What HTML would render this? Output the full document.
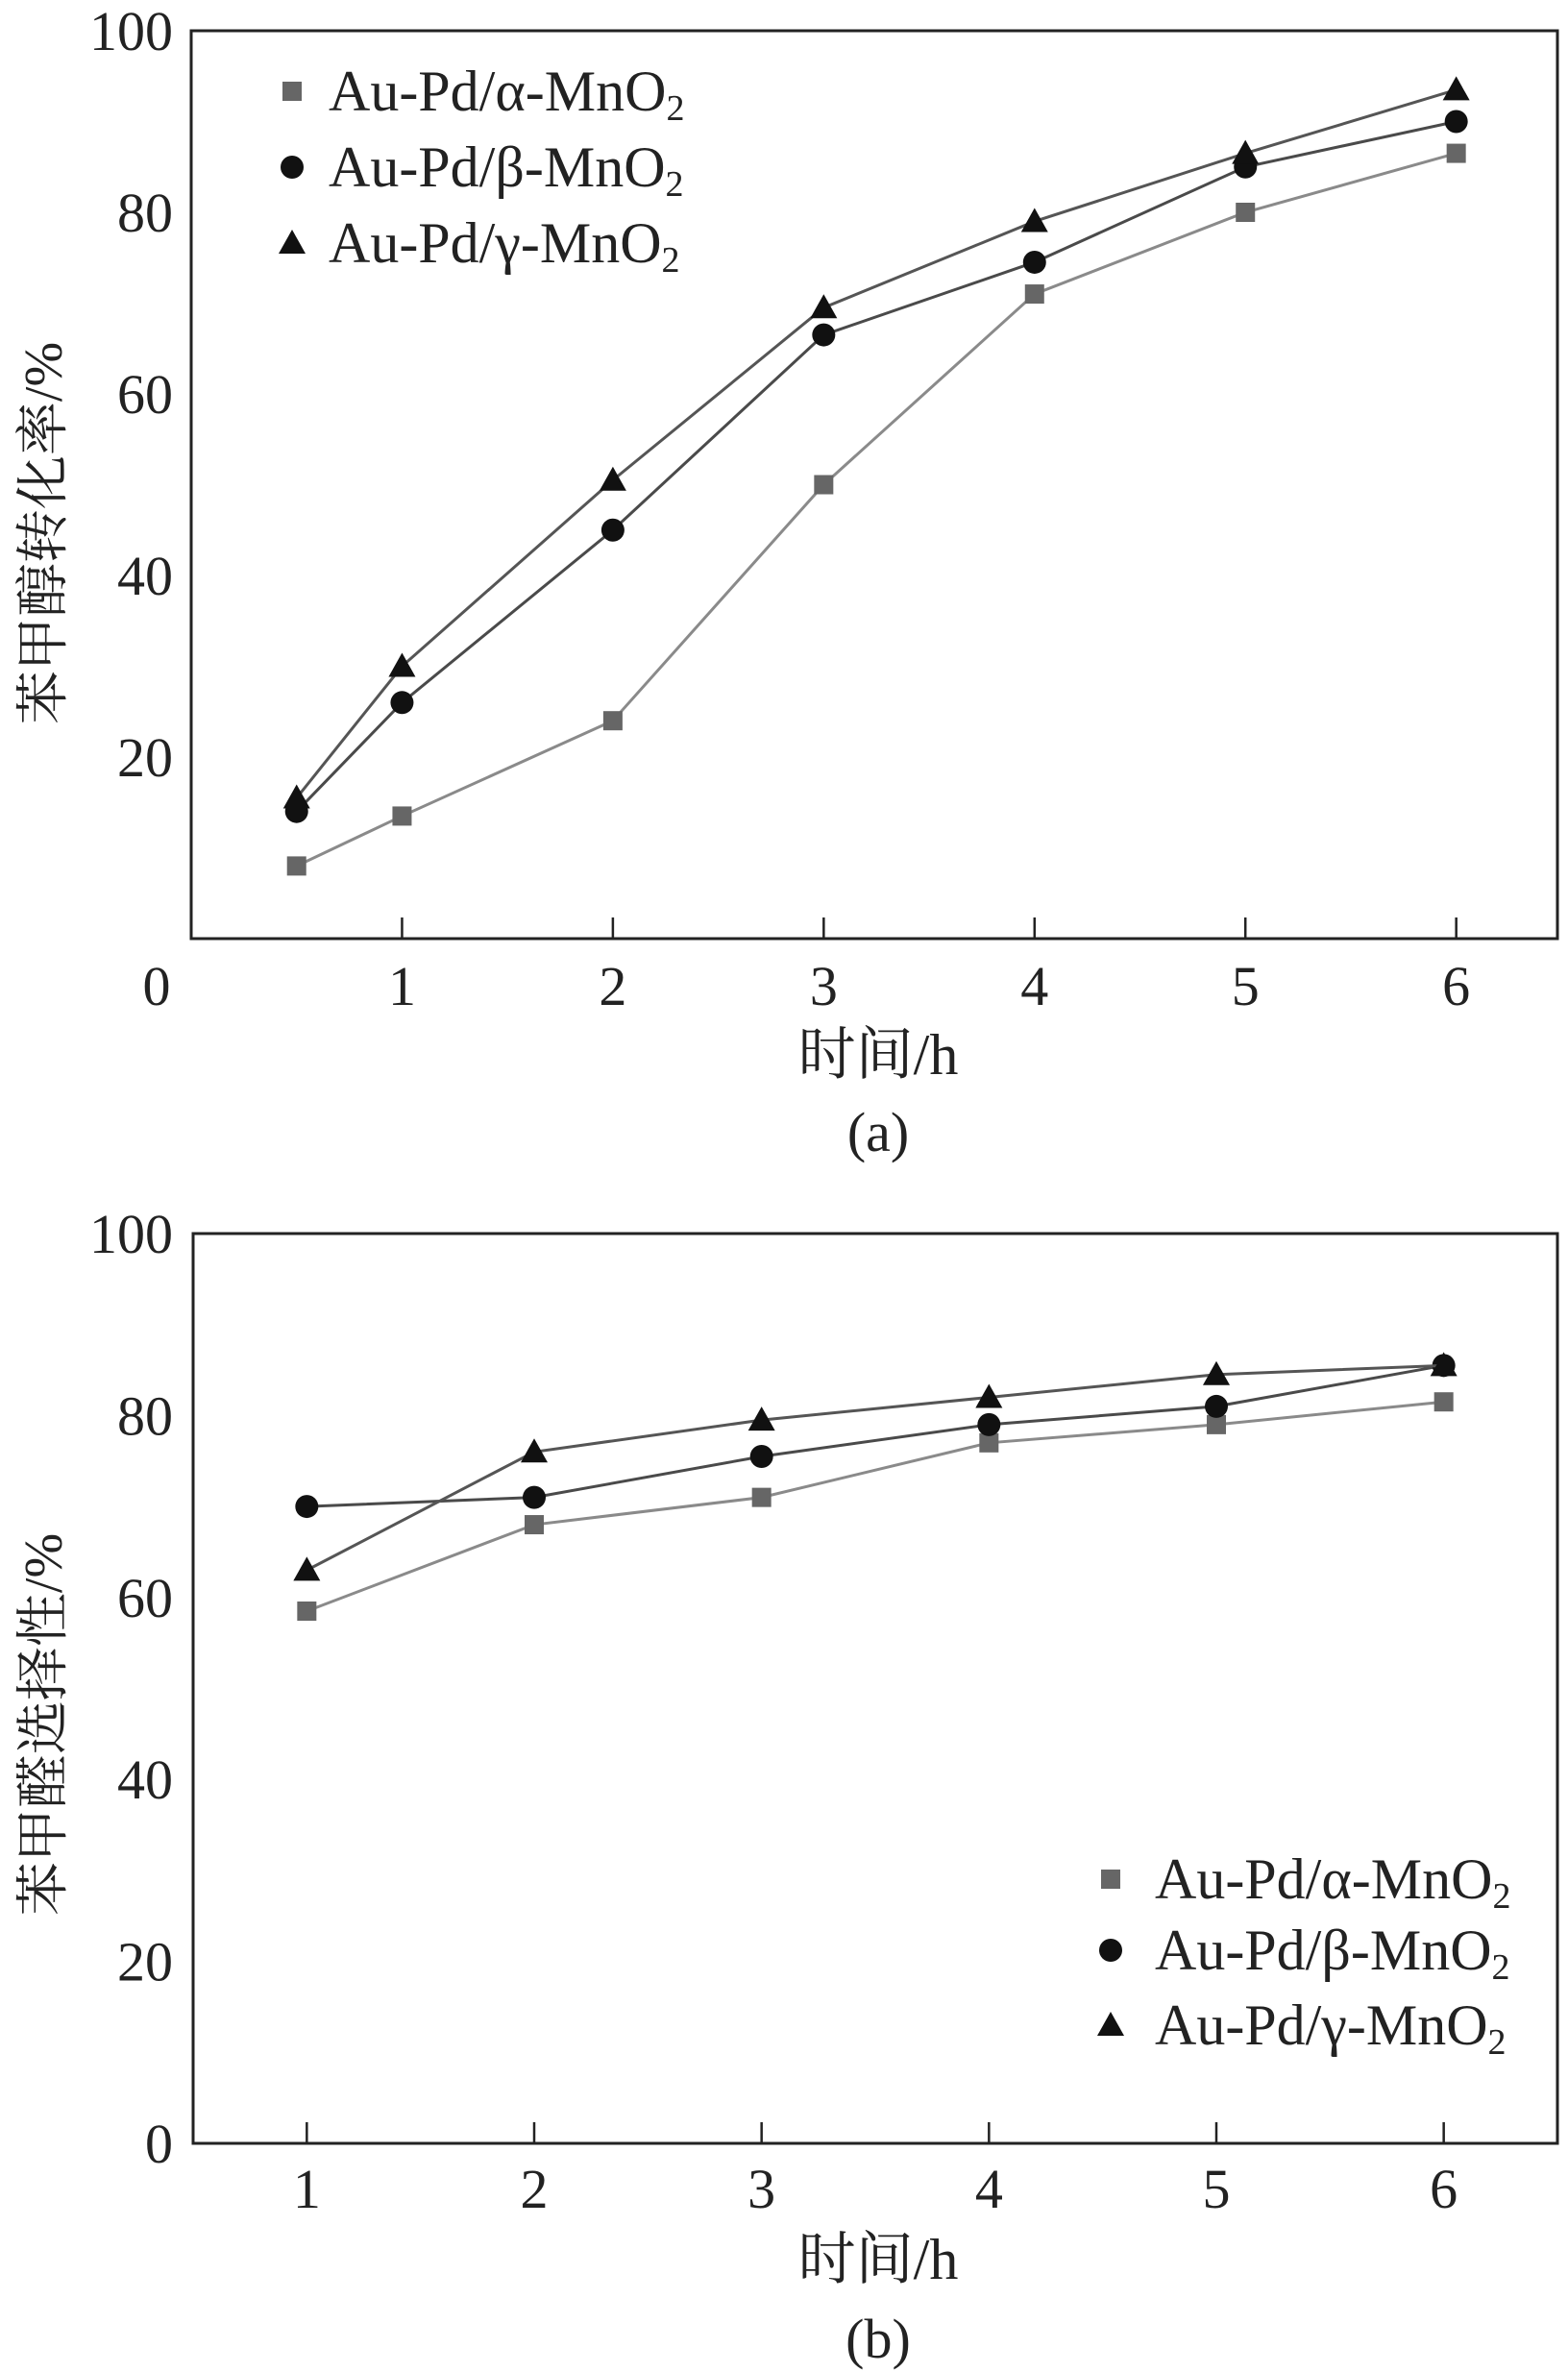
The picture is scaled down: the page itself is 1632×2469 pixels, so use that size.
<!DOCTYPE html>
<html><head><meta charset="utf-8"><style>
html,body{margin:0;padding:0;background:#fff;}
svg{display:block;}
text{font-family:"Liberation Serif","Noto Serif CJK SC",serif;fill:#222;}
</style></head><body>
<svg id="chart" width="1632" height="2469" viewBox="0 0 1632 2469"></svg>
<script>
const xA=[0.5,1,2,3,4,5,6];
const alphaA=[8,13.5,24,50,71,80,86.5];
const betaA=[14,26,45,66.5,74.5,85,90];
const gammaA=[15.5,30,50.5,69.5,79,86.5,93.5];
const xTicksA=[0,1,2,3,4,5,6];
const xB=[1,2,3,4,5,6];
const alphaB=[58.5,68,71,77,79,81.5];
const betaB=[70,71,75.5,79,81,85.5];
const gammaB=[63,76,79.5,82,84.5,85.5];
const xTicksB=[1,2,3,4,5,6];
const yTicks=[0,20,40,60,80,100];
const seriesNames=["Au-Pd/α-MnO","Au-Pd/β-MnO","Au-Pd/γ-MnO"];

const NS="http://www.w3.org/2000/svg";
const svg=document.getElementById('chart');
function el(tag,attrs,parent){const e=document.createElementNS(NS,tag);for(const k in attrs)e.setAttribute(k,attrs[k]);(parent||svg).appendChild(e);return e;}

function drawPanel(cfg){
  const g=el('g',{});
  
  
  const sx=v=>cfg.L+(v-cfg.x0)/(cfg.x1-cfg.x0)*(cfg.R-cfg.L);
  const sy=v=>cfg.B-(v/100)*(cfg.B-cfg.T);
  const box=el('rect',{x:cfg.L,y:cfg.T,width:cfg.R-cfg.L,height:cfg.B-cfg.T,fill:'none',stroke:'#222','stroke-width':3},g);
  
  
  cfg.xticks.forEach(v=>{
    if(v>cfg.x0){const t=el('line',{x1:sx(v),x2:sx(v),y1:cfg.B,y2:cfg.B-22,stroke:'#222','stroke-width':2.5},g);
    
    }
    const tx=el('text',{x:v===0?163:sx(v),y:cfg.xlabY,'font-size':58,'text-anchor':'middle'},g);
    tx.textContent=v;
    
    
  });
  yTicks.forEach(v=>{
    if(v===0&&cfg.skipY0)return;
    const t=el('text',{x:180,y:sy(v)+20,'font-size':58,'text-anchor':'end'},g);
    t.textContent=v;
    
    
  });
  const yt=el('text',{x:0,y:0,'font-size':56,'text-anchor':'middle',transform:`translate(64,${cfg.ytY}) rotate(-90)`},g);
  yt.textContent=cfg.ytitle;
  
  
  const xt=el('text',{x:914,y:cfg.xtY,'font-size':60,'text-anchor':'middle'},g);
  xt.textContent='时间/h';
  
  
  const cap=el('text',{x:914,y:cfg.capY,'font-size':58,'text-anchor':'middle'},g);
  cap.textContent=cfg.cap;
  
  
  const styles=[{c:'#8a8a8a',m:'sq',mc:'#666'},{c:'#4a4a4a',m:'ci',mc:'#111'},{c:'#555',m:'tr',mc:'#111'}];
  const names=['series-alpha','series-beta','series-gamma'];
  cfg.series.forEach((vals,i)=>{
    const s=styles[i];
    const pts=vals.map((v,j)=>[sx(cfg.xs[j]),sy(v)]);
    const pl=el('polyline',{points:pts.map(p=>p.join(',')).join(' '),fill:'none',stroke:s.c,'stroke-width':3},g);
    
    
    pts.forEach(p=>{const m=marker(s,p[0],p[1],g);
      
      });
  });
  cfg.legend.ys.forEach((y,i)=>{
    const m=marker(styles[i],cfg.legend.mx,y,g);
    
    
    const t=el('text',{x:cfg.legend.tx,y:y+20,'font-size':60},g);
    t.textContent=seriesNames[i];
    const sub=el('tspan',{dy:10,'font-size':38},t);sub.textContent='2';
    
    
  });
}
function marker(s,x,y,g){
  if(s.m==='sq')return el('rect',{x:x-10,y:y-10,width:20,height:20,fill:s.mc},g);
  if(s.m==='ci')return el('circle',{cx:x,cy:y,r:12,fill:s.mc},g);
  return el('polygon',{points:`${x},${y-14} ${x-14},${y+11} ${x+14},${y+11}`,fill:s.mc},g);
}
drawPanel({name:'panel-a',L:199,R:1621,T:32,B:977,x0:0,x1:6.48,xs:xA,xticks:xTicksA,
  series:[alphaA,betaA,gammaA],xlabY:1046,xtY:1118,capY:1198,ytY:555,ytitle:'苯甲醇转化率/%',cap:'(a)',skipY0:true,
  legend:{mx:304,tx:342,ys:[95,174,253]}});
drawPanel({name:'panel-b',L:201,R:1621,T:1284,B:2231,x0:0.5,x1:6.5,xs:xB,xticks:xTicksB,
  series:[alphaB,betaB,gammaB],xlabY:2298,xtY:2372,capY:2454,ytY:1795,ytitle:'苯甲醛选择性/%',cap:'(b)',skipY0:false,
  legend:{mx:1156,tx:1202,ys:[1956,2030,2108]}});
</script>
</body></html>
